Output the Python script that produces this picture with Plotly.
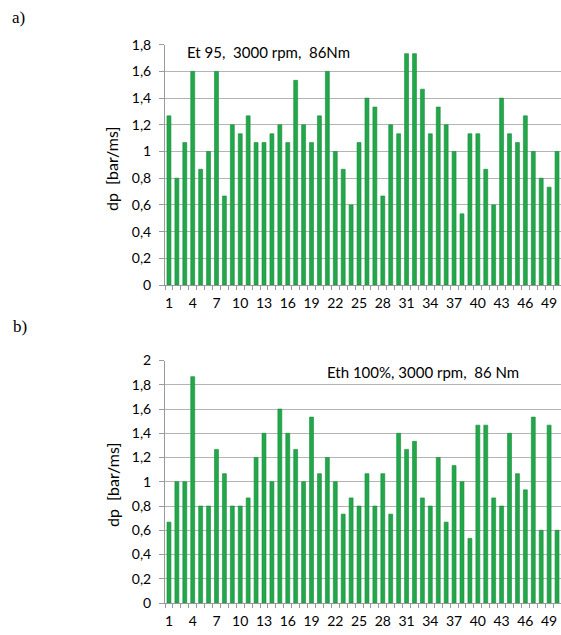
import plotly.graph_objects as go

# ---------------- data ----------------
cycles = list(range(1, 51))

top_vals = [1.267, 0.8, 1.067, 1.6, 0.867, 1.0, 1.6, 0.667, 1.2, 1.133,
            1.267, 1.067, 1.067, 1.133, 1.2, 1.067, 1.533, 1.2, 1.067, 1.267,
            1.6, 1.0, 0.867, 0.6, 1.067, 1.4, 1.333, 0.667, 1.2, 1.133,
            1.733, 1.733, 1.467, 1.133, 1.333, 1.2, 1.0, 0.533, 1.133, 1.133,
            0.867, 0.6, 1.4, 1.133, 1.067, 1.267, 1.0, 0.8, 0.733, 1.0]

bottom_vals = [0.667, 1.0, 1.0, 1.867, 0.8, 0.8, 1.267, 1.067, 0.8, 0.8,
               0.867, 1.2, 1.4, 1.0, 1.6, 1.4, 1.267, 1.0, 1.533, 1.067,
               1.2, 1.0, 0.733, 0.867, 0.8, 1.067, 0.8, 1.067, 0.733, 1.4,
               1.267, 1.333, 0.867, 0.8, 1.2, 0.667, 1.133, 1.0, 0.533, 1.467,
               1.467, 0.867, 0.8, 1.4, 1.067, 0.933, 1.533, 0.6, 1.467, 0.6]

x_tick_vals = list(range(1, 51, 3))
x_tick_text = [str(v) for v in x_tick_vals]

top_y_ticks = [0, 0.2, 0.4, 0.6, 0.8, 1.0, 1.2, 1.4, 1.6, 1.8]
top_y_text = ["0", "0,2", "0,4", "0,6", "0,8", "1", "1,2", "1,4", "1,6", "1,8"]
bot_y_ticks = [0, 0.2, 0.4, 0.6, 0.8, 1.0, 1.2, 1.4, 1.6, 1.8, 2.0]
bot_y_text = ["0", "0,2", "0,4", "0,6", "0,8", "1", "1,2", "1,4", "1,6", "1,8", "2"]

title_top = "Et\u00a095,\u00a0\u00a03000\u00a0rpm,\u00a0\u00a086Nm"
title_bot = "Eth\u00a0100%,\u00a03000\u00a0rpm,\u00a0\u00a086\u00a0Nm"
y_title = "dp\u00a0\u00a0[bar/ms]"

# ---------------- style ----------------
W, H = 561, 635
GREEN = "#22a84a"
EDGE = "#178c3a"
GRID = "#b4b4b4"
AXC = "#9a9a9a"
FONT = "Lato"
TXT = "#000000"


def px_y(p):
    return 1 - p / H


def px_x(p):
    return p / W


fig = go.Figure()
bar_style = dict(marker=dict(color=GREEN, line=dict(color=EDGE, width=0.6)), width=0.5)
fig.add_trace(go.Bar(x=cycles, y=top_vals, xaxis="x", yaxis="y", **bar_style))
fig.add_trace(go.Bar(x=cycles, y=bottom_vals, xaxis="x2", yaxis="y2", **bar_style))

xcommon = dict(
    range=[0.5, 50.5], tickmode="array", tickvals=x_tick_vals, ticktext=x_tick_text,
    ticks="", showline=True, linecolor=AXC, linewidth=1, showgrid=False, zeroline=False,
    minor=dict(ticks="outside", tickmode="linear", tick0=0.5, dtick=1, ticklen=4,
               tickcolor=AXC, tickwidth=1, showgrid=False),
    tickfont=dict(family=FONT, size=14, color=TXT), ticklabelstandoff=5,
    automargin=False, fixedrange=True,
)
ycommon = dict(
    tickmode="array", ticks="outside", ticklen=5, tickcolor=AXC, tickwidth=1,
    showline=True, linecolor=AXC, linewidth=1, showgrid=True, gridcolor=GRID,
    gridwidth=1, zeroline=False, tickfont=dict(family=FONT, size=14, color=TXT),
    ticklabelstandoff=5, automargin=False, fixedrange=True,
)

fig.update_layout(
    width=W, height=H, margin=dict(l=0, r=0, t=0, b=0),
    paper_bgcolor="white", plot_bgcolor="white", showlegend=False,
    template="none",
    xaxis=dict(domain=[px_x(165), 1], anchor="y", **xcommon),
    xaxis2=dict(domain=[px_x(165), 1], anchor="y2", **xcommon),
    yaxis=dict(domain=[px_y(285), px_y(44.7)], range=[0, 1.8], anchor="x",
               tickvals=top_y_ticks, ticktext=top_y_text, **ycommon),
    yaxis2=dict(domain=[px_y(603), px_y(360.5)], range=[0, 2.0], anchor="x2",
                tickvals=bot_y_ticks, ticktext=bot_y_text, **ycommon),
)

ann = []
ann.append(dict(text="a)", x=px_x(10), y=px_y(17), xref="paper", yref="paper",
                xanchor="left", yanchor="middle", showarrow=False,
                font=dict(family="Liberation Serif", size=17, color="black")))
ann.append(dict(text="b)", x=px_x(11), y=px_y(327), xref="paper", yref="paper",
                xanchor="left", yanchor="middle", showarrow=False,
                font=dict(family="Liberation Serif", size=17, color="black")))
for yc in (169, 485):
    ann.append(dict(text=y_title, x=px_x(112), y=px_y(yc), xref="paper", yref="paper",
                    xanchor="center", yanchor="middle", textangle=-90, showarrow=False,
                    font=dict(family=FONT, size=16, color=TXT)))
ann.append(dict(text=title_top, x=px_x(268), y=px_y(52), xref="paper", yref="paper",
                xanchor="center", yanchor="middle", showarrow=False,
                font=dict(family=FONT, size=15, color=TXT)))
ann.append(dict(text=title_bot, x=px_x(423), y=px_y(372), xref="paper", yref="paper",
                xanchor="center", yanchor="middle", showarrow=False,
                font=dict(family=FONT, size=15, color=TXT)))
fig.update_layout(annotations=ann)

fig.write_html(
    "out.html",
    config={"displayModeBar": False, "staticPlot": True},
    post_script="document.body.style.margin='0';document.body.style.padding='0';"
                "document.body.style.overflow='hidden';",
)
